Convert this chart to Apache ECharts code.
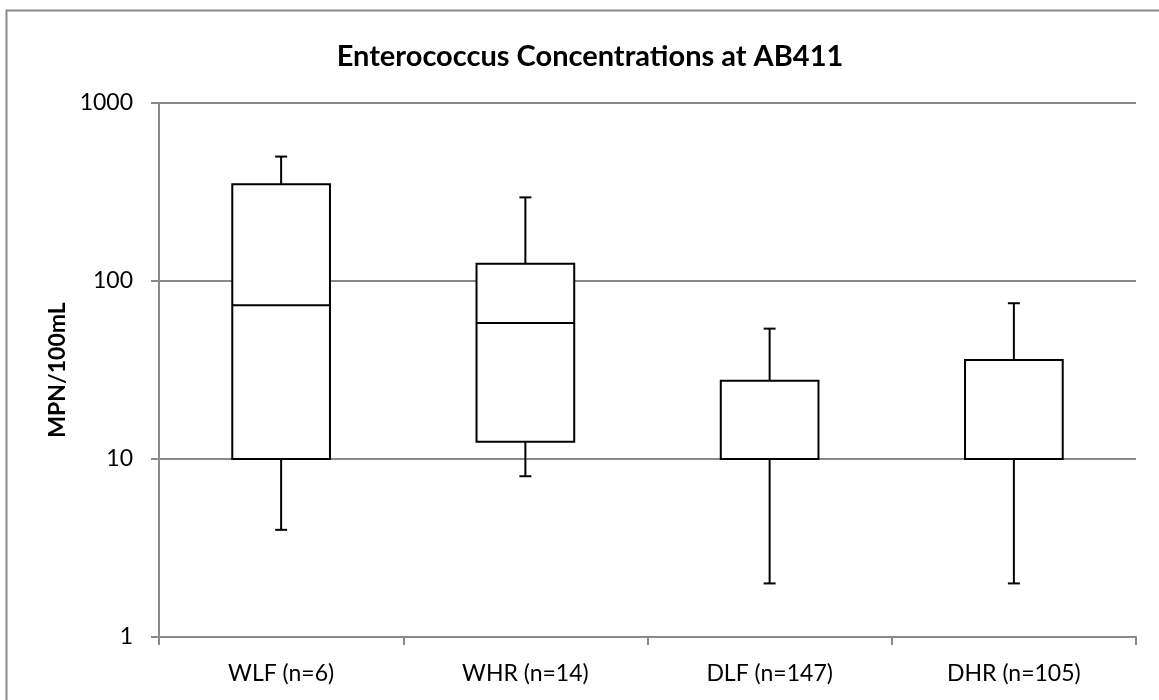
<!DOCTYPE html>
<html>
<head>
<meta charset="utf-8">
<title>Enterococcus Concentrations at AB411</title>
<script src="https://cdn.jsdelivr.net/npm/echarts@6/dist/echarts.min.js"></script>
<style>
  html, body { margin: 0; padding: 0; background: #fff; }
</style>
</head>
<body>
<div id="main" style="width:1159px;height:700px;"></div>
<script type="text/javascript">
// box plot stats (MPN/100mL)
var categories = ['WLF (n=6)', 'WHR (n=14)', 'DLF (n=147)', 'DHR (n=105)'];
var whiskerLow = [4, 8, 2, 2];
var q1 = [10, 12.5, 10, 10];
var median = [73, 58, 10, 10];
var q3 = [350, 125, 27.5, 36];
var whiskerHigh = [500, 295, 54, 75];
var yTicks = [1, 10, 100, 1000];

var font = 'Lato, "Open Sans", sans-serif';
var gray = '#898989';

var boxData = categories.map(function (c, i) {
    return [i, whiskerLow[i], q1[i], median[i], q3[i], whiskerHigh[i]];
});

var chart = echarts.init(document.getElementById('main'));

function renderBox(params, api) {
    var idx = api.value(0);
    var pLow = api.coord([idx, api.value(1)]);
    var pQ1 = api.coord([idx, api.value(2)]);
    var pMed = api.coord([idx, api.value(3)]);
    var pQ3 = api.coord([idx, api.value(4)]);
    var pHigh = api.coord([idx, api.value(5)]);
    var band = api.size([1, 0])[0];
    var w = band * 0.4;
    var cx = pQ1[0];
    var cap = 6;
    var st = { stroke: '#000', lineWidth: 2, fill: null };
    return {
        type: 'group',
        children: [
            { type: 'line', shape: { x1: cx, y1: pQ3[1], x2: cx, y2: pHigh[1] }, style: st },
            { type: 'line', shape: { x1: cx - cap, y1: pHigh[1], x2: cx + cap, y2: pHigh[1] }, style: st },
            { type: 'line', shape: { x1: cx, y1: pQ1[1], x2: cx, y2: pLow[1] }, style: st },
            { type: 'line', shape: { x1: cx - cap, y1: pLow[1], x2: cx + cap, y2: pLow[1] }, style: st },
            { type: 'rect', shape: { x: cx - w / 2, y: pQ3[1], width: w, height: pQ1[1] - pQ3[1] },
              style: { stroke: '#000', lineWidth: 2, fill: '#fff' } },
            { type: 'line', shape: { x1: cx - w / 2, y1: pMed[1], x2: cx + w / 2, y2: pMed[1] }, style: st }
        ]
    };
}

var option = {
    backgroundColor: '#fff',
    animation: false,
    title: {
        text: 'Enterococcus Concentrations at AB411',
        left: 585,
        top: 37,
        textAlign: 'center',
        textStyle: { fontFamily: font, fontSize: 29, fontWeight: 'bold', color: '#000' }
    },
    graphic: [{
        type: 'rect',
        shape: { x: 6.5, y: 10.5, width: 1300, height: 900 },
        style: { fill: null, stroke: gray, lineWidth: 2 },
        silent: true
    }],
    grid: { left: 159, right: 23, top: 103, bottom: 63 },
    xAxis: {
        type: 'category',
        data: categories,
        axisLine: { lineStyle: { color: gray, width: 2 } },
        axisTick: { show: true, length: 8, lineStyle: { color: gray, width: 2 } },
        axisLabel: { color: '#000', fontFamily: font, fontSize: 23, margin: 25 },
        splitLine: { show: false }
    },
    yAxis: {
        type: 'log',
        logBase: 10,
        min: 1,
        max: 1000,
        name: 'MPN/100mL',
        nameLocation: 'middle',
        nameGap: 90,
        nameRotate: 90,
        nameTextStyle: { color: '#000', fontFamily: font, fontSize: 23, fontWeight: 'bold' },
        axisLine: { show: true, lineStyle: { color: gray, width: 2 } },
        axisTick: { show: true, length: 8, lineStyle: { color: gray, width: 2 } },
        axisLabel: {
            color: '#000', fontFamily: font, fontSize: 23, margin: 26,
            formatter: function (v) { return yTicks.indexOf(Math.round(v)) >= 0 ? String(Math.round(v)) : ''; }
        },
        splitLine: { show: true, lineStyle: { color: gray, width: 2 } }
    },
    series: [{
        type: 'custom',
        renderItem: renderBox,
        data: boxData,
        encode: { x: 0, y: [1, 2, 3, 4, 5] },
        z: 10
    }]
};
chart.setOption(option);
</script>
</body>
</html>
